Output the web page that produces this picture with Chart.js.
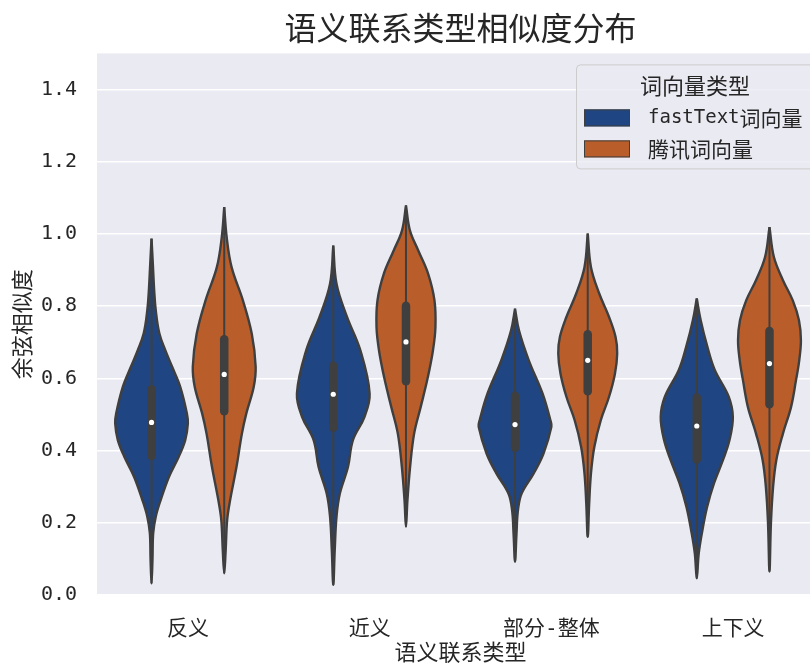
<!DOCTYPE html>
<html>
<head>
<meta charset="utf-8">
<script src="https://cdn.jsdelivr.net/npm/chart.js@4/dist/chart.umd.min.js"></script>
<style>
  html, body { margin: 0; padding: 0; background: #ffffff; overflow: hidden; }
  canvas { display: block; }
</style>
</head>
<body>
<canvas id="chart" width="830" height="665" style="width:830px;height:665px"></canvas>
<script>
// ---- data ----------------------------------------------------------------
const categories = ['反义', '近义', '部分-整体', '上下义'];
const seriesNames = ['fastText词向量', '腾讯词向量'];
const yTicks = [0.0, 0.2, 0.4, 0.6, 0.8, 1.0, 1.2, 1.4];

// kernel density outlines per category: [cosine similarity, density], top to bottom
const fastTextDensity = [
  [[0.987,0],[0.908,1.5],[0.844,2.7],[0.789,4.3],[0.724,8],[0.678,14],[0.632,21],[0.576,29.3],[0.503,36],[0.475,37],[0.429,34.3],[0.383,27.7],[0.327,17.7],[0.263,9.3],[0.217,4.3],[0.171,1.7],[0.100,1],[0.032,0]],
  [[0.968,0],[0.862,3.3],[0.770,14],[0.678,27.5],[0.558,37],[0.493,31.7],[0.429,20],[0.355,15],[0.281,6.7],[0.217,3.3],[0.125,1.5],[0.028,0]],
  [[0.793,0],[0.733,4],[0.650,14],[0.558,28],[0.484,36],[0.466,37],[0.392,29],[0.337,19],[0.281,6.7],[0.235,3],[0.170,1.5],[0.092,0]],
  [[0.821,0],[0.761,4],[0.687,10.8],[0.623,18.3],[0.549,32.5],[0.493,36.7],[0.429,33.3],[0.374,26.7],[0.309,17.5],[0.244,10.5],[0.180,5.8],[0.115,2],[0.046,0]]
];
const tencentDensity = [
  [[1.074,0],[0.991,2.5],[0.908,7.5],[0.816,19],[0.724,28],[0.632,32],[0.576,30],[0.503,22.5],[0.447,18],[0.355,12.5],[0.263,6],[0.208,3],[0.125,1.5],[0.060,0]],
  [[1.079,0],[1.010,4],[0.954,12.5],[0.890,22.5],[0.816,29],[0.742,30],[0.678,27.5],[0.600,22],[0.521,15],[0.447,8.3],[0.355,4.2],[0.263,1.5],[0.189,0]],
  [[1.001,0],[0.908,3.3],[0.835,11.7],[0.770,21.7],[0.715,28.3],[0.669,30],[0.613,27.7],[0.549,21.7],[0.484,13.3],[0.410,6.7],[0.337,3.3],[0.254,1.5],[0.161,0]],
  [[1.019,0],[0.936,4.5],[0.872,13.7],[0.816,23.7],[0.761,30],[0.706,32],[0.650,30.3],[0.595,27],[0.521,22],[0.447,13.7],[0.374,7],[0.300,3.7],[0.200,1.5],[0.065,0]]
];

// quartiles and medians
const fastTextQ1     = [0.385, 0.463, 0.408, 0.375];
const fastTextMedian = [0.478, 0.556, 0.472, 0.468];
const fastTextQ3     = [0.570, 0.635, 0.552, 0.547];
const tencentQ1      = [0.509, 0.592, 0.564, 0.528];
const tencentMedian  = [0.611, 0.701, 0.650, 0.641];
const tencentQ3      = [0.708, 0.801, 0.722, 0.731];

// ---- styling -------------------------------------------------------------
const TEXT = '#262626';
const OUTLINE = '#3f3f3f';
const AXES_BG = '#eaeaf2';
const COLORS = ['#1f4583', '#b95e2b'];
const HUE_OFFSET = 0.2;      // hue dodge from the category centre
const VIOLIN_HALF = 0.2;     // widest half-width in category units
const DENSITY_PEAK = 37;     // density that maps to the widest half-width
const MONO = "'DejaVu Sans Mono', 'Noto Sans CJK SC', sans-serif";
const CJK = "'Noto Sans CJK SC', sans-serif";

const series = [
  { name: seriesNames[0], profiles: fastTextDensity, q1: fastTextQ1, med: fastTextMedian, q3: fastTextQ3, color: COLORS[0], offset: -HUE_OFFSET },
  { name: seriesNames[1], profiles: tencentDensity,  q1: tencentQ1,  med: tencentMedian,  q3: tencentQ3,  color: COLORS[1], offset:  HUE_OFFSET }
];

// closed outline: right side top->bottom, then left side bottom->top
function outline(profile, center) {
  const half = d => d / DENSITY_PEAK * VIOLIN_HALF;
  const right = profile.map(([y, d]) => ({ x: center + half(d), y }));
  const left = profile.slice().reverse().map(([y, d]) => ({ x: center - half(d), y }));
  return right.concat(left.slice(1));
}

const datasets = [];
series.forEach(s => {
  categories.forEach((cat, i) => {
    const center = i + s.offset;
    const prof = s.profiles[i];
    datasets.push({
      label: s.name + ' ' + cat,
      data: outline(prof, center),
      showLine: true, fill: 'shape', tension: 0.38,
      backgroundColor: s.color, borderColor: OUTLINE, borderWidth: 2.4,
      borderJoinStyle: 'round',
      pointRadius: 0, order: 3
    });
    datasets.push({
      data: [{ x: center, y: prof[prof.length - 1][0] }, { x: center, y: prof[0][0] }],
      showLine: true, borderColor: OUTLINE, borderWidth: 2, pointRadius: 0, order: 2
    });
    datasets.push({
      data: [{ x: center, y: s.q1[i] }, { x: center, y: s.q3[i] }],
      showLine: true, borderColor: OUTLINE, borderWidth: 8.5, borderCapStyle: 'round',
      pointRadius: 0, order: 1
    });
    datasets.push({
      data: [{ x: center, y: s.med[i] }],
      pointRadius: 2.6, pointBackgroundColor: '#ffffff', pointBorderWidth: 0, order: 0
    });
  });
});

// axes background
const axesBackground = {
  id: 'axesBackground',
  beforeDraw(chart) {
    const { ctx, chartArea: a } = chart;
    ctx.save();
    ctx.fillStyle = AXES_BG;
    ctx.fillRect(a.left, a.top, a.right - a.left, a.bottom - a.top);
    ctx.restore();
  }
};

// draws a label with Latin letters and CJK characters in their own sizes
function drawMixed(ctx, text, x, y) {
  const runs = text.match(/[\x00-\x7f]+|[^\x00-\x7f]+/g) || [];
  runs.forEach(run => {
    const latin = /^[\x00-\x7f]/.test(run);
    ctx.font = latin ? "19px 'DejaVu Sans Mono', monospace" : '21px ' + CJK;
    ctx.fillText(run, x, y);
    x += ctx.measureText(run).width;
  });
}

// hue legend in the upper-right corner of the plot
const hueLegend = {
  id: 'hueLegend',
  afterDraw(chart) {
    const { ctx, chartArea: a } = chart;
    const right = a.right - 10, left = right - 238, top = a.top + 11, bottom = top + 104;
    ctx.save();
    ctx.beginPath();
    ctx.roundRect(left + 0.5, top + 0.5, right - left, bottom - top, 4);
    ctx.fillStyle = 'rgba(234,234,242,0.8)';
    ctx.fill();
    ctx.strokeStyle = '#cccccc';
    ctx.lineWidth = 1;
    ctx.stroke();

    ctx.fillStyle = TEXT;
    ctx.textBaseline = 'middle';
    ctx.textAlign = 'center';
    ctx.font = '22px ' + CJK;
    ctx.fillText('词向量类型', (left + right) / 2, top + 21);

    ctx.textAlign = 'left';
    series.forEach((s, k) => {
      const cy = top + 53 + k * 31;
      ctx.fillStyle = s.color;
      ctx.fillRect(left + 8, cy - 8, 46, 17);
      ctx.strokeStyle = OUTLINE;
      ctx.lineWidth = 1;
      ctx.strokeRect(left + 8.5, cy - 7.5, 45, 16);
      ctx.fillStyle = TEXT;
      drawMixed(ctx, s.name, left + 72, cy + 1);
    });
    ctx.restore();
  }
};

new Chart(document.getElementById('chart'), {
  type: 'scatter',
  data: { datasets },
  plugins: [axesBackground, hueLegend],
  options: {
    responsive: false,
    animation: false,
    devicePixelRatio: 1,
    layout: { padding: { left: 0, right: 6, top: 0, bottom: 0 } },
    plugins: {
      legend: { display: false },
      tooltip: { enabled: false },
      title: {
        display: true, fullSize: false,
        text: '语义联系类型相似度分布',
        color: TEXT,
        font: { family: CJK, size: 32, weight: 'normal' },
        padding: { top: 9, bottom: 6 }
      }
    },
    scales: {
      x: {
        type: 'linear', min: -0.5, max: 3.5,
        grid: { display: false }, border: { display: false },
        afterBuildTicks: s => { s.ticks = categories.map((_, i) => ({ value: i })); },
        afterFit: s => { s.height = 70; },
        ticks: {
          callback: v => categories[v],
          color: TEXT, padding: 14, autoSkip: false, maxRotation: 0,
          font: { family: MONO, size: 21 }
        },
        title: {
          display: true, text: '语义联系类型', color: TEXT,
          font: { family: CJK, size: 22 }, padding: { top: 0, bottom: 0 }
        }
      },
      y: {
        min: 0, max: 1.5,
        afterBuildTicks: s => { s.ticks = yTicks.map(v => ({ value: v })); },
        afterFit: s => { s.width = 97; },
        grid: { color: '#ffffff', lineWidth: 1.5, drawTicks: false },
        border: { display: false },
        ticks: {
          callback: v => Number(v).toFixed(1),
          color: TEXT, padding: 20,
          font: { family: MONO, size: 20 }
        },
        title: {
          display: true, text: '余弦相似度', color: TEXT,
          font: { family: CJK, size: 22 }, padding: { top: 8, bottom: 0 }
        }
      }
    }
  }
});
</script>
</body>
</html>
